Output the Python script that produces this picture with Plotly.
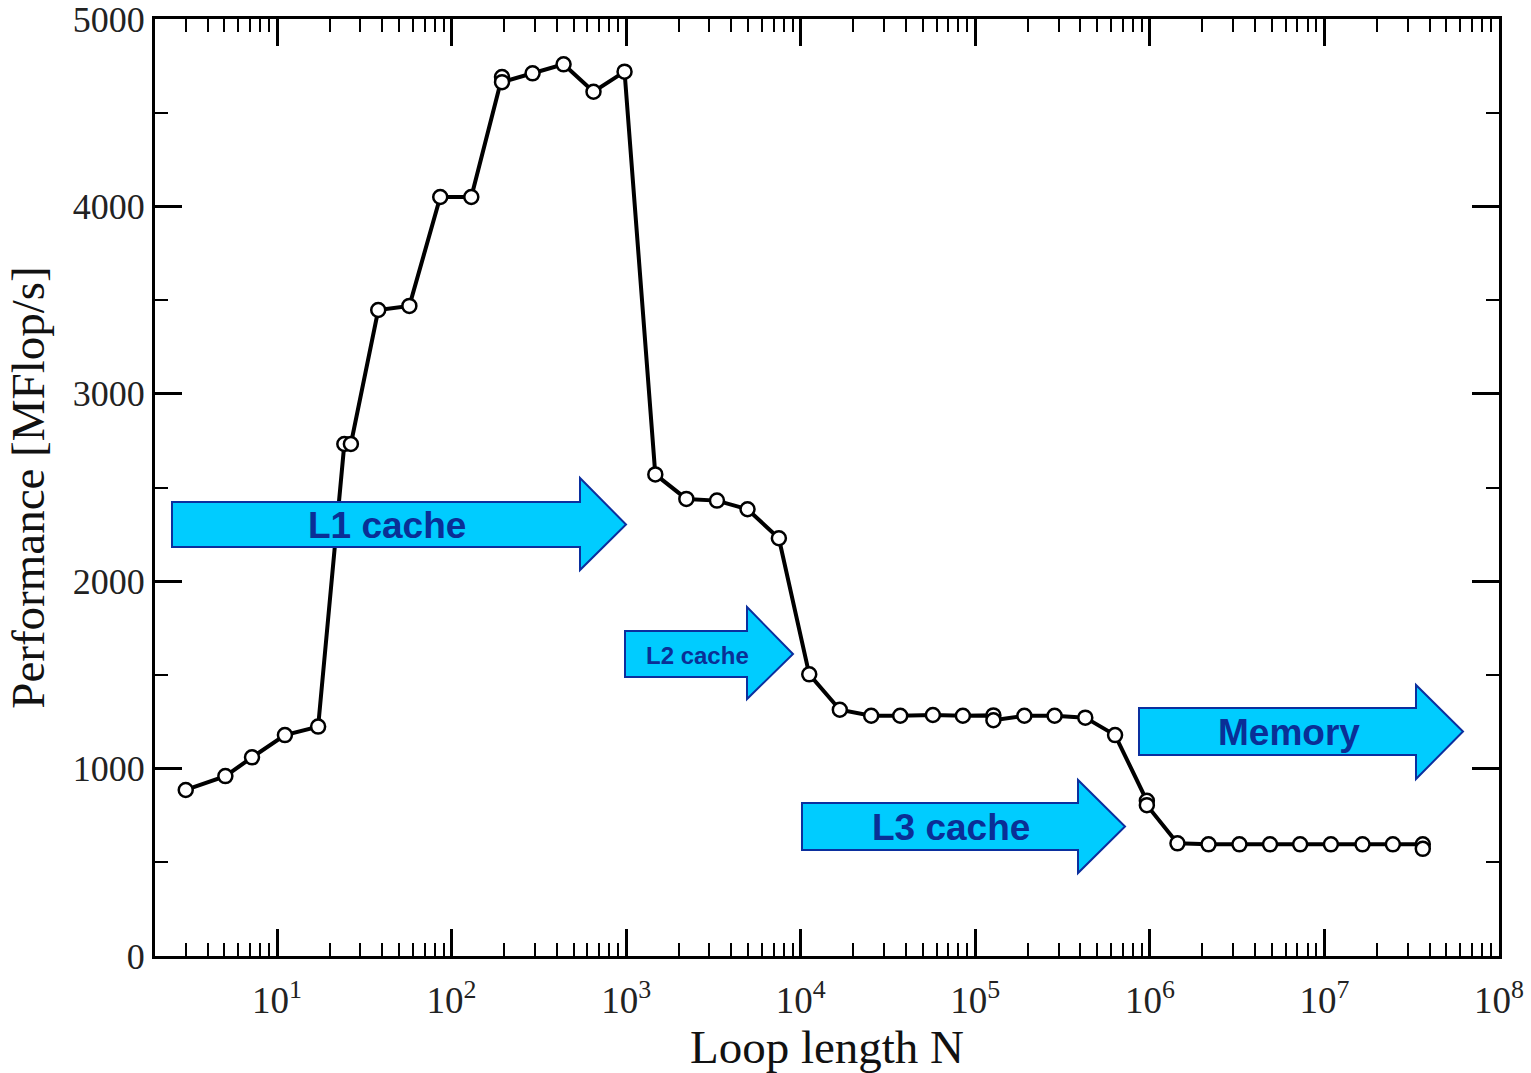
import math
import plotly.graph_objects as go

# ---- data ----
loop_length = [3, 5.06, 7.19, 11.1, 17.2, 24.3, 26.5, 38.0, 57.3, 86.1, 129.7,
               194.5, 194.5, 291, 438, 650, 979, 1469, 2212, 3313, 4958, 7497,
               11190, 16750, 25330, 37150, 57150, 84900, 127000, 127000, 191000,
               284600, 426700, 632000, 961000, 961000, 1.439e6, 2.168e6, 3.26e6,
               4.88e6, 7.26e6, 1.089e7, 1.652e7, 2.466e7, 3.66e7, 3.66e7]
performance = [886, 960, 1060, 1179, 1224, 2732, 2732, 3447, 3469, 4050, 4050,
               4690, 4663, 4710, 4758, 4612, 4719, 2570, 2439, 2430, 2384, 2229,
               1503, 1314, 1282, 1282, 1286, 1282, 1284, 1258, 1282,
               1282, 1272, 1179, 828, 805, 601, 596, 596,
               596, 596, 596, 596, 596, 596, 572]

x_major = [10, 100, 1000, 10000, 100000, 1000000, 10000000, 100000000]
x_major_text = ["10<sup>%d</sup>" % k for k in range(1, 9)]
x_minor = [m * 10 ** k for k in range(0, 8) for m in range(2, 10)]
y_major = [0, 1000, 2000, 3000, 4000, 5000]
y_minor = [500, 1500, 2500, 3500, 4500]

arrow_labels = ["L1 cache", "L2 cache", "L3 cache", "Memory"]

# ---- layout geometry ----
W, H = 1531, 1073
L, R, T, B = 155, 1499, 19, 956


def px(x):
    return (x - L) / (R - L)


def py(y):
    return (B - y) / (B - T)


# arrow boxes in pixel space: (x_left, head_start, tip, body_top, body_bottom, head_top, head_bottom, font size)
arrows = [
    (172, 580, 626, 502, 547, 478, 570, 37),
    (625, 747, 793, 631, 677, 607, 699, 24),
    (802, 1078, 1125, 803, 850, 780, 873, 37),
    (1139, 1416, 1463, 708, 755, 685, 779, 37),
]

fig = go.Figure()
fig.add_trace(go.Scatter(
    x=loop_length, y=performance, mode="lines+markers",
    line=dict(color="black", width=4),
    marker=dict(symbol="circle", size=14, color="white",
                line=dict(color="black", width=2.5)),
    showlegend=False, hoverinfo="x+y",
))

shapes = []
annotations = []
for (xl, xh, xt, bt, bb, ht, hb, fs), lab in zip(arrows, arrow_labels):
    ym = (bt + bb) / 2
    pts = [(xl, bt), (xh, bt), (xh, ht), (xt, ym), (xh, hb), (xh, bb), (xl, bb)]
    path = "M " + " L ".join("%.5f,%.5f" % (px(a), py(b)) for a, b in pts) + " Z"
    shapes.append(dict(type="path", xref="paper", yref="paper", path=path,
                       fillcolor="#00CCFF", line=dict(color="#0b2f9e", width=2),
                       layer="above"))
    annotations.append(dict(xref="paper", yref="paper",
                            x=px((xl + xh) / 2 + 11), y=py(ym + 1),
                            text="<b>%s</b>" % lab, showarrow=False,
                            font=dict(family="Liberation Sans, Arial", size=fs,
                                      color="#0a2f96"),
                            xanchor="center", yanchor="middle"))

serif = "Liberation Serif, Times New Roman, serif"
fig.update_layout(
    width=W, height=H,
    margin=dict(l=L, r=W - R, t=T, b=H - B),
    paper_bgcolor="white", plot_bgcolor="white",
    shapes=shapes, annotations=annotations,
    xaxis=dict(
        type="log", range=[math.log10(2), 8], automargin=False,
        showline=True, linecolor="black", linewidth=3, mirror="allticks",
        ticks="inside", ticklen=27, tickwidth=3, tickcolor="black",
        tickmode="array", tickvals=x_major, ticktext=x_major_text,
        tickfont=dict(family=serif, size=37, color="#222"),
        ticklabelstandoff=10, ticklabeloverflow="allow",
        minor=dict(ticks="inside", ticklen=13, tickwidth=2, tickcolor="black",
                   tickmode="array", tickvals=x_minor, showgrid=False),
        showgrid=False, zeroline=False,
        title=dict(text="Loop length N", font=dict(family=serif, size=47, color="#111"),
                   standoff=16),
    ),
    yaxis=dict(
        range=[0, 5000], automargin=False,
        showline=True, linecolor="black", linewidth=3, mirror="allticks",
        ticks="inside", ticklen=27, tickwidth=3, tickcolor="black",
        tickmode="array", tickvals=y_major, ticktext=[str(v) for v in y_major],
        tickfont=dict(family=serif, size=36, color="#222"),
        ticklabeloverflow="allow",
        minor=dict(ticks="inside", ticklen=13, tickwidth=2, tickcolor="black",
                   tickmode="array", tickvals=y_minor, showgrid=False),
        showgrid=False, zeroline=False,
        title=dict(text="Performance [MFlop/s]", font=dict(family=serif, size=47, color="#111"),
                   standoff=14),
    ),
)

fig.write_html("out.html")
